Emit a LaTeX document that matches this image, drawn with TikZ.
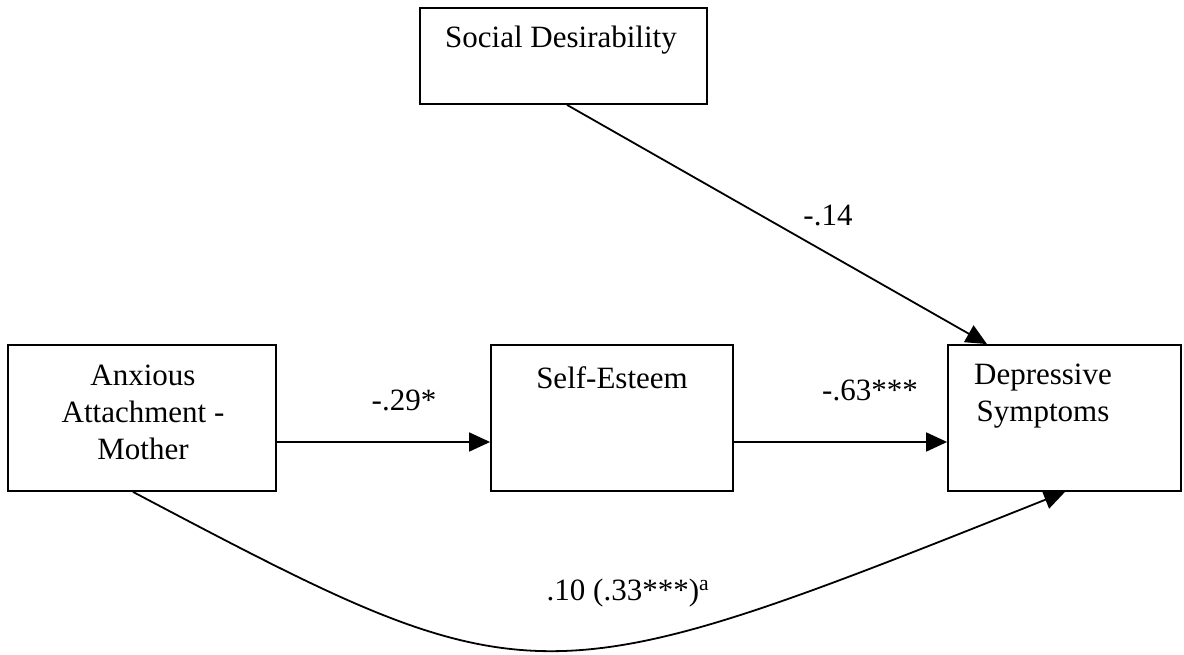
\documentclass[tikz,border=0pt]{standalone}
\usepackage{fontspec}
\setmainfont{Liberation Serif}
\usetikzlibrary{arrows.meta}
\begin{document}
\begin{tikzpicture}[x=1pt,y=-1pt,
  box/.style={draw,line width=1.8pt,inner sep=0pt,minimum width=#1},
  txt/.style={font=\fontsize{31}{37}\selectfont,inner sep=0pt,align=center},
  lab/.style={font=\fontsize{31}{37}\selectfont,inner sep=0pt,anchor=base},
  conn/.style={line width=1.8pt,-{Triangle[length=21pt,width=19pt]}}]
\useasboundingbox (0,0) rectangle (1184,655);
% boxes
\node[box=287pt,minimum height=96pt] (sd) at (563.5,56) {};
\node[box=268pt,minimum height=146pt] (anx) at (142,418) {};
\node[box=242pt,minimum height=146pt] (se) at (612,418) {};
\node[box=233pt,minimum height=146pt] (dep) at (1064.5,418) {};
% box texts
\node[txt,anchor=north] (sdt) at (561,26) {Social Desirability};
\node[txt,anchor=north] (anxt) at (143,365) {Anxious\\Attachment -\\Mother};
\node[txt,anchor=north] (set) at (612,366) {Self-Esteem};
\node[txt,anchor=north] (dept) at (1043,364) {Depressive\\Symptoms};
% connectors
\draw[conn] ([yshift=-24pt]anx.east) -- ([yshift=-24pt]se.west);
\draw[conn] ([yshift=-24pt]se.east) -- ([yshift=-24pt]dep.west);
\draw[conn] ([xshift=3.5pt]sd.south) -- ([xshift=-77.5pt]dep.north);
\draw[conn] ([xshift=-9pt]anx.south) .. controls (533,703) and (535,703) .. ([xshift=0.5pt]dep.south);
% labels
\node[lab] (l1) at (404,410) {-.29*};
\node[lab] (l2) at (870,400) {-.63***};
\node[lab] (l3) at (828,226) {-.14};
\node[lab] (l4) at (628,600) {.10 (.33***)\textsuperscript{a}};
\end{tikzpicture}
\end{document}
